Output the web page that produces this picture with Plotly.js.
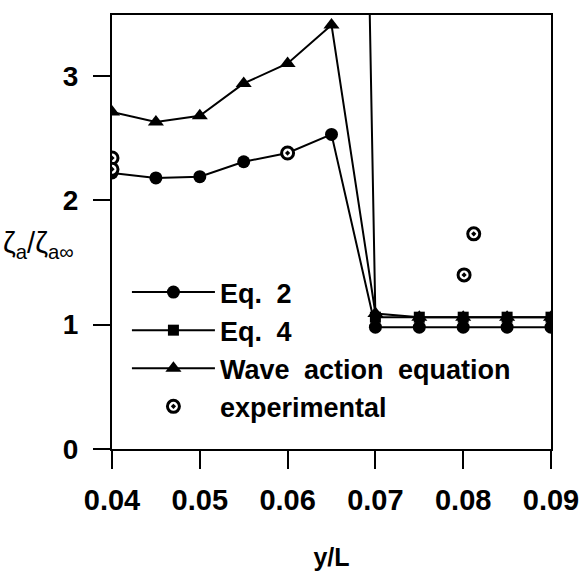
<!DOCTYPE html>
<html>
<head>
<meta charset="utf-8">
<script src="https://cdn.plot.ly/plotly-3.0.1.min.js"></script>
<style>
html,body{margin:0;padding:0;background:#fff;}
#chart{width:583px;height:571px;}
.legendtext{word-spacing:7px;}
</style>
</head>
<body>
<div id="chart"></div>
<script>
// y/L positions
const xLeft = [0.04, 0.045, 0.05, 0.055, 0.06, 0.065, 0.07, 0.075, 0.08, 0.085, 0.09];
const eq2 = [2.22, 2.18, 2.19, 2.31, 2.38, 2.53, 0.98, 0.98, 0.98, 0.98, 0.98];
const xEq4 = [0.065, 0.07, 0.075, 0.08, 0.085, 0.09];
const eq4 = [20.0, 1.06, 1.06, 1.06, 1.06, 1.06];
const waveAction = [2.71, 2.63, 2.68, 2.94, 3.10, 3.41, 1.09, 1.06, 1.06, 1.06, 1.06];
const xExp = [0.04, 0.04, 0.06, 0.0801, 0.0812];
const experimental = [2.34, 2.25, 2.38, 1.40, 1.73];
const xTicks = [0.04, 0.05, 0.06, 0.07, 0.08, 0.09];
const xTickText = ['0.04', '0.05', '0.06', '0.07', '0.08', '0.09'];
const yTicks = [0, 1, 2, 3];
const yTickText = ['0', '1', '2', '3'];

const FONT = 'Liberation Sans, Arial, Helvetica, sans-serif';
const lineStyle = {color: '#000', width: 2};

const traces = [
  {x: xLeft, y: eq2, name: 'Eq. 2', mode: 'lines+markers', line: lineStyle,
   marker: {symbol: 'circle', size: 13, color: '#000'}},
  {x: xEq4, y: eq4, name: 'Eq. 4', mode: 'lines+markers', line: lineStyle,
   marker: {symbol: 'square', size: 11, color: '#000'}},
  {x: xLeft, y: waveAction, name: 'Wave action equation', mode: 'lines+markers', line: lineStyle,
   marker: {symbol: 'triangle-up', size: 14, color: '#000'}},
  {x: xExp, y: experimental, name: 'experimental', mode: 'markers',
   marker: {symbol: 'circle-dot', size: 12, color: '#fff', line: {color: '#000', width: 3}}}
];

const layout = {
  width: 583, height: 571,
  margin: {l: 112, r: 32, t: 15, b: 122},
  paper_bgcolor: '#fff', plot_bgcolor: '#fff',
  font: {family: FONT, color: '#000', size: 28},
  showlegend: true,
  legend: {x: 0.034, y: 0.417, xanchor: 'left', yanchor: 'top', bgcolor: 'rgba(0,0,0,0)',
           font: {family: FONT, size: 27, color: '#000', weight: 'bold'}, itemwidth: 83, tracegroupgap: 0},
  xaxis: {
    range: [0.04, 0.09], tickvals: xTicks, ticktext: xTickText,
    showgrid: false, zeroline: false, showline: true, linecolor: '#000', linewidth: 2, mirror: true,
    ticks: 'outside', ticklen: 18, tickwidth: 2, tickcolor: '#000', ticklabelstandoff: 6,
    tickfont: {family: FONT, size: 29, color: '#000', weight: 'bold'},
    title: {text: 'y/L', font: {family: FONT, size: 25, color: '#000', weight: 'bold'}, standoff: 42}
  },
  yaxis: {
    range: [0, 3.49], tickvals: yTicks, ticktext: yTickText,
    showgrid: false, zeroline: false, showline: true, linecolor: '#000', linewidth: 2, mirror: true,
    ticks: 'outside', ticklen: 17, tickwidth: 2, tickcolor: '#000', ticklabelstandoff: 9,
    tickfont: {family: FONT, size: 28, color: '#000', weight: 'bold'}
  },
  annotations: [{
    xref: 'paper', yref: 'paper', x: -0.252, y: 0.47, xanchor: 'left', yanchor: 'middle',
    text: 'ζ<sub>a</sub>/ζ<sub>a∞</sub>', showarrow: false,
    font: {family: FONT, size: 29, color: '#000'}
  }]
};

Plotly.newPlot('chart', traces, layout, {staticPlot: true, displayModeBar: false});
</script>
</body>
</html>
